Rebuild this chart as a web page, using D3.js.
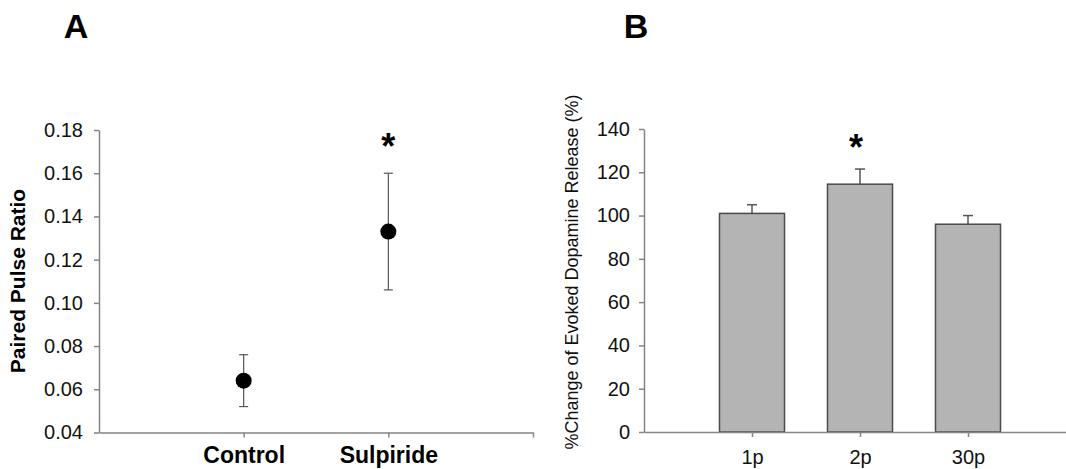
<!DOCTYPE html>
<html>
<head>
    <script src="https://cdn.jsdelivr.net/npm/d3@7/dist/d3.min.js"></script>
    <style>
        body { margin: 0; background: #fff; }
        text { font-family: Arial, "Liberation Sans", sans-serif; }
    </style>
</head>
<body>
<div id="chart"></div>

<script>

    // panel A - paired pulse ratio
    var groupsA = ['Control', 'Sulpiride'];
    var ratioMeans = [0.064, 0.133];
    var ratioErrs = [0.012, 0.027];
    var yTicksA = [0.04, 0.06, 0.08, 0.10, 0.12, 0.14, 0.16, 0.18];

    // panel B - evoked dopamine release
    var pulsesB = ['1p', '2p', '30p'];
    var releaseMeans = [101, 114.5, 96];
    var releaseErrs = [4, 7, 4];
    var yTicksB = [0, 20, 40, 60, 80, 100, 120, 140];

    var width = 1066;
    var height = 469;
    var axisColor = '#858585';

    var svg = d3.select('#chart').append('svg')
        .attr('width', width)
        .attr('height', height);

    // ---------- panel A ----------
    var xA = d3.scaleLinear().domain([0, 3]).range([99, 533]);
    var yA = d3.scaleLinear().domain([0.04, 0.18]).range([432.5, 130]);

    var gA = svg.append('g');

    var yAxisA = gA.append('g')
        .attr('transform', 'translate(' + xA(0) + ',0)')
        .call(d3.axisLeft(yA).tickValues(yTicksA).tickFormat(d3.format('.2f')).tickSize(5).tickSizeOuter(0));
    yAxisA.selectAll('text').attr('x', -16).attr('font-size', 20).attr('fill', '#111');

    var xAxisA = gA.append('g')
        .attr('transform', 'translate(0,' + yA(0.04) + ')')
        .call(d3.axisBottom(xA).tickValues([1, 2, 3])
            .tickFormat(function(d) { return groupsA[d - 1] || ''; })
            .tickSize(5).tickSizeOuter(0));
    xAxisA.selectAll('text')
        .attr('y', 30).attr('dy', 0)
        .attr('font-size', 23).attr('font-weight', 'bold').attr('fill', '#000');

    [yAxisA, xAxisA].forEach(function(ax) {
        ax.selectAll('.domain, line').attr('stroke', axisColor).attr('stroke-width', 1.5);
        ax.attr('font-family', null);
    });

    // error bars A
    var errA = gA.selectAll('.errA')
        .data(groupsA)
        .enter()
        .append('g')
        .attr('stroke', '#555')
        .attr('stroke-width', 1.2);

    errA.append('line')
        .attr('x1', function(d, i) { return xA(i + 1); })
        .attr('x2', function(d, i) { return xA(i + 1); })
        .attr('y1', function(d, i) { return yA(ratioMeans[i] + ratioErrs[i]); })
        .attr('y2', function(d, i) { return yA(ratioMeans[i] - ratioErrs[i]); });
    errA.append('line')
        .attr('x1', function(d, i) { return xA(i + 1) - 4.5; })
        .attr('x2', function(d, i) { return xA(i + 1) + 4.5; })
        .attr('y1', function(d, i) { return yA(ratioMeans[i] + ratioErrs[i]); })
        .attr('y2', function(d, i) { return yA(ratioMeans[i] + ratioErrs[i]); });
    errA.append('line')
        .attr('x1', function(d, i) { return xA(i + 1) - 4.5; })
        .attr('x2', function(d, i) { return xA(i + 1) + 4.5; })
        .attr('y1', function(d, i) { return yA(ratioMeans[i] - ratioErrs[i]); })
        .attr('y2', function(d, i) { return yA(ratioMeans[i] - ratioErrs[i]); });

    gA.selectAll('circle')
        .data(ratioMeans)
        .enter()
        .append('circle')
        .attr('cx', function(d, i) { return xA(i + 1); })
        .attr('cy', function(d) { return yA(d); })
        .attr('r', 8)
        .attr('fill', '#000');

    gA.append('text')
        .attr('x', xA(2))
        .attr('y', 159)
        .attr('text-anchor', 'middle')
        .attr('font-size', 36)
        .attr('font-weight', 'bold')
        .text('*');

    gA.append('text')
        .attr('transform', 'translate(25,' + 281 + ') rotate(-90)')
        .attr('text-anchor', 'middle')
        .attr('font-size', 21)
        .attr('font-weight', 'bold')
        .text('Paired Pulse Ratio');

    gA.append('text')
        .attr('x', 76)
        .attr('y', 38)
        .attr('text-anchor', 'middle')
        .attr('font-size', 34)
        .attr('font-weight', 'bold')
        .text('A');

    // ---------- panel B ----------
    var xB = d3.scaleLinear().domain([0, 4]).range([644, 1076]);
    var yB = d3.scaleLinear().domain([0, 140]).range([432, 129]);
    var barWidth = 65;

    var gB = svg.append('g');

    // error bars B (upper only), drawn below bars
    var errB = gB.selectAll('.errB')
        .data(pulsesB)
        .enter()
        .append('g')
        .attr('stroke', '#555')
        .attr('stroke-width', 1.5);
    errB.append('line')
        .attr('x1', function(d, i) { return xB(i + 1); })
        .attr('x2', function(d, i) { return xB(i + 1); })
        .attr('y1', function(d, i) { return yB(releaseMeans[i] + releaseErrs[i]); })
        .attr('y2', function(d, i) { return yB(releaseMeans[i]); });
    errB.append('line')
        .attr('x1', function(d, i) { return xB(i + 1) - 5; })
        .attr('x2', function(d, i) { return xB(i + 1) + 5; })
        .attr('y1', function(d, i) { return yB(releaseMeans[i] + releaseErrs[i]); })
        .attr('y2', function(d, i) { return yB(releaseMeans[i] + releaseErrs[i]); });

    gB.selectAll('rect')
        .data(releaseMeans)
        .enter()
        .append('rect')
        .attr('x', function(d, i) { return xB(i + 1) - barWidth / 2; })
        .attr('y', function(d) { return yB(d); })
        .attr('width', barWidth)
        .attr('height', function(d) { return yB(0) - yB(d); })
        .attr('fill', '#b4b4b4')
        .attr('stroke', '#4a4a4a')
        .attr('stroke-width', 1.5);

    var yAxisB = gB.append('g')
        .attr('transform', 'translate(' + xB(0) + ',0)')
        .call(d3.axisLeft(yB).tickValues(yTicksB).tickSize(5).tickSizeOuter(0));
    yAxisB.selectAll('text').attr('x', -14).attr('font-size', 20).attr('fill', '#111');

    var xAxisB = gB.append('g')
        .attr('transform', 'translate(0,' + yB(0) + ')')
        .call(d3.axisBottom(xB).tickValues([1, 2, 3])
            .tickFormat(function(d) { return pulsesB[d - 1]; })
            .tickSize(5).tickSizeOuter(0));
    xAxisB.selectAll('text')
        .attr('y', 32).attr('dy', 0)
        .attr('font-size', 20).attr('fill', '#111');

    [yAxisB, xAxisB].forEach(function(ax) {
        ax.selectAll('.domain, line').attr('stroke', axisColor).attr('stroke-width', 1.5);
        ax.attr('font-family', null);
    });

    gB.append('text')
        .attr('x', xB(2) - 4)
        .attr('y', 160)
        .attr('text-anchor', 'middle')
        .attr('font-size', 36)
        .attr('font-weight', 'bold')
        .text('*');

    gB.append('text')
        .attr('transform', 'translate(578,' + 272 + ') rotate(-90)')
        .attr('text-anchor', 'middle')
        .attr('font-size', 18)
        .attr('fill', '#111')
        .text('%Change of Evoked Dopamine Release (%)');

    gB.append('text')
        .attr('x', 636)
        .attr('y', 38)
        .attr('text-anchor', 'middle')
        .attr('font-size', 34)
        .attr('font-weight', 'bold')
        .text('B');

</script>
</body>
</html>
